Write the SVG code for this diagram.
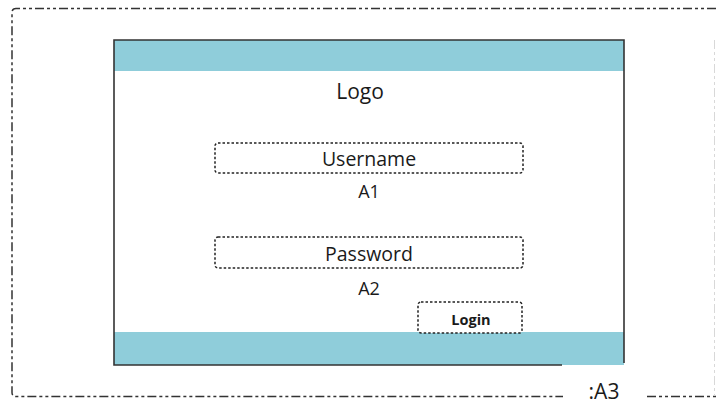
<svg xmlns="http://www.w3.org/2000/svg" width="716" height="405" viewBox="0 0 716 405">
  <style>
    .frame { fill: none; stroke: #333; stroke-width: 1.5; stroke-dasharray: 9 3 3 3 3 3; }
    .faint { fill: none; stroke: #d8d8d8; stroke-width: 1; stroke-dasharray: 9 3 3 3 3 3; }
    .band { fill: #8fcdda; }
    .border { fill: none; stroke: #333; stroke-width: 1.6; }
    .field { fill: #fff; stroke: #222; stroke-width: 1.5; stroke-dasharray: 2.5 2; }
    .t { font-family: "Open Sans", "Liberation Sans", sans-serif; fill: #1a1a1a; text-anchor: middle; }
  </style>
  <rect width="716" height="405" fill="#fff"/>
  <g id="outer-frame">
    <path class="frame" d="M716 8.5 H16 Q12 8.5 12 12.5 V392.5 Q12 396.5 16 396.5 H563"/>
    <path class="frame" d="M647 396.5 H716"/>
    <path class="faint" d="M714.5 40 V396"/>
    <text class="t" x="604" y="399" font-size="21">:A3</text>
  </g>
  <g id="screen">
    <rect class="band" x="114" y="40" width="510" height="31"/>
    <rect class="band" x="114" y="332" width="510" height="33"/>
    <path class="border" d="M562 365 H114 V40 H624 V363"/>
  </g>
  <g id="logo">
    <text class="t" x="360" y="99" font-size="21">Logo</text>
  </g>
  <g id="username">
    <rect class="field" x="215" y="143" width="308" height="30" rx="3"/>
    <text class="t" x="369" y="166" font-size="19.5">Username</text>
  </g>
  <g id="a1">
    <text class="t" x="369" y="198" font-size="18">A1</text>
  </g>
  <g id="password">
    <rect class="field" x="215" y="237" width="308" height="31" rx="3"/>
    <text class="t" x="369" y="261" font-size="19.5">Password</text>
  </g>
  <g id="a2">
    <text class="t" x="369" y="295" font-size="18">A2</text>
  </g>
  <g id="login">
    <rect class="field" x="418" y="302" width="104" height="31" rx="3"/>
    <text class="t" x="471" y="325" font-size="14.5" font-weight="bold">Login</text>
  </g>
  <g id="connectors"></g>
</svg>
